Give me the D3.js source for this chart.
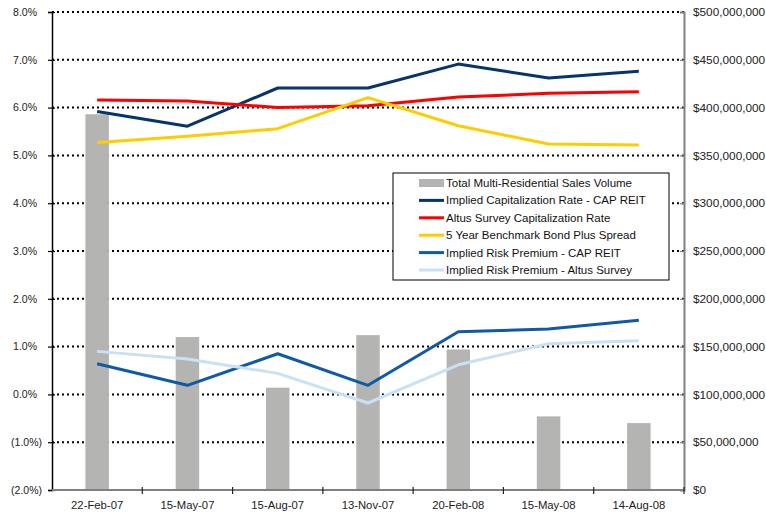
<!DOCTYPE html>
<html lang="en">
<head>
<meta charset="UTF-8">
<title>Cap rates and sales volume</title>
<script src="https://d3js.org/d3.v7.min.js"></script>
<style>
  body { margin: 0; background: #fff; }
  svg { font-family: "Liberation Sans", Arial, sans-serif; }
  .grid line { stroke: #000; stroke-width: 2; stroke-dasharray: 2,3; }
  .tick-label { fill: #222; }
  .legend-text { font-size: 11.5px; fill: #111; }
</style>
</head>
<body>
<svg id="chart" width="766" height="520"></svg>
<script>
// data
const dates = ["22-Feb-07", "15-May-07", "15-Aug-07", "13-Nov-07", "20-Feb-08", "15-May-08", "14-Aug-08"];
const salesVolume = [393e6, 160e6, 107e6, 162e6, 147e6, 77e6, 70e6];
const capReit = [5.92, 5.61, 6.41, 6.41, 6.91, 6.62, 6.76];
const altusCap = [6.16, 6.14, 6.00, 6.04, 6.22, 6.30, 6.33];
const bondSpread = [5.27, 5.40, 5.56, 6.21, 5.62, 5.24, 5.22];
const riskCapReit = [0.64, 0.19, 0.85, 0.19, 1.31, 1.37, 1.55];
const riskAltus = [0.90, 0.74, 0.44, -0.18, 0.62, 1.06, 1.12];
const pctTicks = d3.range(-2, 8.01, 1);
const dollarTicks = d3.range(0, 500e6 + 1, 50e6);

const lineSeries = [
  { name: "Implied Capitalization Rate - CAP REIT", values: capReit, color: "#06356b" },
  { name: "Altus Survey Capitalization Rate", values: altusCap, color: "#ff0000" },
  { name: "5 Year Benchmark Bond Plus Spread", values: bondSpread, color: "#ffcc00" },
  { name: "Implied Risk Premium - CAP REIT", values: riskCapReit, color: "#0f5aa6" },
  { name: "Implied Risk Premium - Altus Survey", values: riskAltus, color: "#c9e1f5" }
];

const svg = d3.select("#chart");
const plotL = 52, plotR = 684, plotT = 12, plotB = 490;

const x = d3.scaleBand().domain(dates).range([plotL, plotR]).padding(0);
const yPct = d3.scaleLinear().domain([-2, 8]).range([plotB, plotT]);
const yUsd = d3.scaleLinear().domain([0, 500e6]).range([plotB, plotT]);
const cx = d => x(d) + x.bandwidth() / 2;

// gridlines
svg.append("g").attr("class", "grid")
  .selectAll("line").data(pctTicks.filter(t => t > -2)).join("line")
  .attr("x1", plotL).attr("x2", plotR)
  .attr("y1", d => yPct(d)).attr("y2", d => yPct(d));

// bars
const barW = x.bandwidth() * 0.26;
svg.append("g").selectAll("rect").data(dates).join("rect")
  .attr("x", (d) => cx(d) - barW / 2)
  .attr("y", (d, i) => yUsd(salesVolume[i]))
  .attr("width", barW)
  .attr("height", (d, i) => yUsd(0) - yUsd(salesVolume[i]))
  .attr("fill", "#b4b5b2");

// lines
const line = d3.line().x((v, i) => cx(dates[i])).y(v => yPct(v));
svg.append("g").selectAll("path").data(lineSeries).join("path")
  .attr("d", s => line(s.values))
  .attr("fill", "none")
  .attr("stroke", s => s.color)
  .attr("stroke-width", 3)
  .attr("stroke-linejoin", "round");

// left axis (positives leave room for a ")" like the excel format)
const fmtPct = v => v < 0 ? "(" + Math.abs(v).toFixed(1) + "%)" : v.toFixed(1) + "%";
const leftAxis = svg.append("g").attr("transform", `translate(${plotL},0)`)
  .call(d3.axisLeft(yPct).tickValues(pctTicks).tickFormat(fmtPct).tickSize(4).tickPadding(6));
leftAxis.select(".domain").attr("stroke", "#000").attr("stroke-width", 1.5);
leftAxis.selectAll(".tick line").attr("stroke", "#000").attr("stroke-width", 1.2).attr("x2", 3).attr("x1", -4);
leftAxis.selectAll("text").attr("class", "tick-label")
  .attr("font-size", 10.5).attr("font-family", null)
  .attr("x", d => d < 0 ? -10 : -15);

// right axis
const fmtUsd = v => "$" + d3.format(",")(v);
const rightAxis = svg.append("g").attr("transform", `translate(${plotR},0)`)
  .call(d3.axisRight(yUsd).tickValues(dollarTicks).tickFormat(fmtUsd).tickSize(-4).tickPadding(9));
rightAxis.select(".domain").attr("stroke", "#808080").attr("stroke-width", 2);
rightAxis.selectAll(".tick line").attr("stroke", "#808080").attr("stroke-width", 1.2);
rightAxis.selectAll("text").attr("class", "tick-label")
  .attr("font-size", 11.8).attr("font-family", null);

// bottom axis
const bottomAxis = svg.append("g").attr("transform", `translate(0,${plotB})`);
bottomAxis.append("line").attr("x1", plotL).attr("x2", plotR)
  .attr("stroke", "#808080").attr("stroke-width", 1.8);
bottomAxis.selectAll("line.tk").data(dates.slice(1).concat([null])).join("line")
  .attr("class", "tk")
  .attr("x1", (d, i) => x(dates[0]) + x.step() * (i + 1))
  .attr("x2", (d, i) => x(dates[0]) + x.step() * (i + 1))
  .attr("y1", -3).attr("y2", 4)
  .attr("stroke", "#222").attr("stroke-width", 1.2);
bottomAxis.selectAll("text").data(dates).join("text")
  .attr("class", "tick-label")
  .attr("font-size", 11.3)
  .attr("x", d => cx(d)).attr("y", 19)
  .attr("text-anchor", "middle")
  .text(d => d);

// legend
const legend = svg.append("g").attr("transform", "translate(393,173)");
legend.append("rect").attr("width", 276).attr("height", 107)
  .attr("fill", "#fff").attr("stroke", "#000").attr("stroke-width", 1);
const legendItems = [{ name: "Total Multi-Residential Sales Volume", bar: true, color: "#b4b5b2" }].concat(lineSeries);
const li = legend.selectAll("g.item").data(legendItems).join("g")
  .attr("class", "item")
  .attr("transform", (d, i) => `translate(0,${10 + i * 17.4})`);
li.append("rect")
  .attr("x", 26).attr("width", 25)
  .attr("y", d => d.bar ? -4 : -1.5)
  .attr("height", d => d.bar ? 8 : 3)
  .attr("fill", d => d.color);
li.append("text").attr("class", "legend-text")
  .attr("x", 53).attr("y", 4)
  .text(d => d.name);
</script>
</body>
</html>
